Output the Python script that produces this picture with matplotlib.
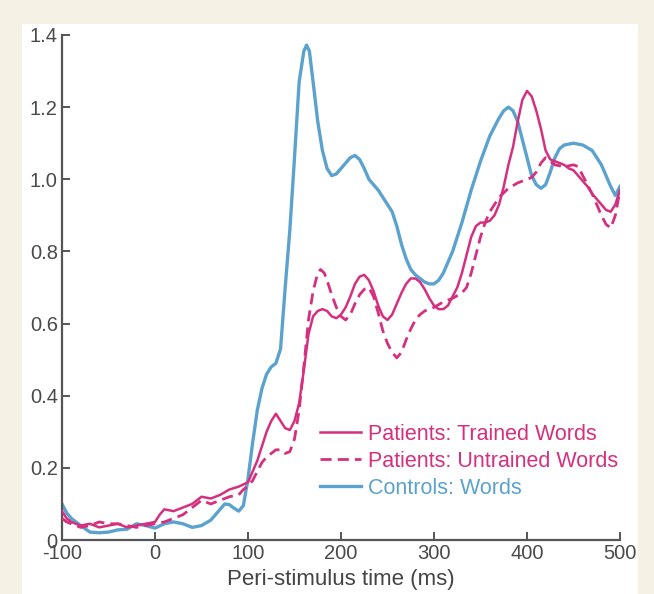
import matplotlib
matplotlib.use("Agg")
import matplotlib.pyplot as plt
from matplotlib.patches import Rectangle

plt.rcParams['font.family'] = ['Liberation Sans', 'DejaVu Sans']
plt.rcParams['axes.unicode_minus'] = False

# Controls: Words (blue)
t_ctrl = [-100, -95, -90, -80, -70, -60, -50, -40, -30, -20, -10, 0, 10, 20, 30, 40, 50, 60, 70, 75,
          80, 85, 90, 95, 100, 105, 110, 115, 120, 125, 130, 135, 140, 145, 150, 155, 160, 163, 166, 170,
          175, 180, 185, 190, 195, 200, 205, 210, 215, 220, 225, 230, 235, 240, 245, 250, 255, 260, 265, 270,
          275, 280, 285, 290, 295, 300, 305, 310, 320, 330, 340, 350, 360, 370, 375, 380, 385, 390, 395, 400,
          405, 410, 415, 420, 425, 430, 435, 440, 450, 460, 470, 475, 480, 485, 490, 495, 500]
v_ctrl = [0.10, 0.075, 0.06, 0.04, 0.022, 0.02, 0.022, 0.028, 0.03, 0.045, 0.04, 0.033, 0.045, 0.05, 0.045, 0.035, 0.04, 0.055, 0.085, 0.10,
          0.098, 0.088, 0.08, 0.095, 0.17, 0.27, 0.36, 0.42, 0.46, 0.48, 0.49, 0.53, 0.70, 0.86, 1.06, 1.27, 1.355, 1.372, 1.355, 1.27,
          1.16, 1.08, 1.03, 1.01, 1.015, 1.03, 1.045, 1.06, 1.066, 1.055, 1.03, 1.0, 0.985, 0.97, 0.95, 0.93, 0.91, 0.87, 0.82, 0.78,
          0.75, 0.735, 0.725, 0.715, 0.71, 0.71, 0.72, 0.74, 0.80, 0.88, 0.97, 1.05, 1.12, 1.17, 1.19, 1.20, 1.19, 1.16, 1.11, 1.06,
          1.01, 0.985, 0.975, 0.985, 1.02, 1.06, 1.085, 1.095, 1.10, 1.095, 1.08, 1.06, 1.04, 1.01, 0.98, 0.955, 0.98]

# Patients: Trained Words (solid magenta)
t_trained = [-100, -95, -90, -80, -70, -60, -50, -40, -30, -20, -10, 0, 5, 10, 20, 30, 40, 50, 60, 70,
             80, 90, 100, 105, 110, 115, 120, 125, 130, 135, 140, 145, 150, 155, 160, 165, 170, 175, 180, 185,
             190, 195, 200, 205, 210, 215, 220, 225, 230, 235, 240, 245, 250, 255, 260, 265, 270, 275, 280, 285,
             290, 295, 300, 305, 310, 315, 320, 325, 330, 335, 340, 345, 350, 355, 360, 365, 370, 375, 380, 385,
             390, 395, 400, 405, 410, 415, 420, 425, 430, 435, 440, 445, 450, 455, 460, 465, 470, 475, 480, 485,
             490, 495, 500]
v_trained = [0.08, 0.06, 0.05, 0.04, 0.045, 0.035, 0.04, 0.045, 0.035, 0.04, 0.045, 0.05, 0.07, 0.085, 0.08, 0.09, 0.10, 0.12, 0.115, 0.125,
             0.14, 0.148, 0.16, 0.19, 0.22, 0.26, 0.30, 0.33, 0.35, 0.33, 0.31, 0.305, 0.33, 0.38, 0.47, 0.57, 0.62, 0.635, 0.64, 0.635,
             0.62, 0.615, 0.625, 0.645, 0.675, 0.71, 0.73, 0.735, 0.72, 0.69, 0.65, 0.62, 0.61, 0.625, 0.655, 0.685, 0.71, 0.725, 0.725, 0.715,
             0.695, 0.67, 0.65, 0.64, 0.64, 0.65, 0.675, 0.70, 0.74, 0.79, 0.84, 0.87, 0.88, 0.88, 0.885, 0.90, 0.93, 0.98, 1.04, 1.09,
             1.16, 1.22, 1.245, 1.23, 1.19, 1.14, 1.08, 1.055, 1.05, 1.045, 1.04, 1.03, 1.025, 1.01, 0.995, 0.98, 0.96, 0.945, 0.93, 0.915,
             0.91, 0.93, 0.97]

# Patients: Untrained Words (dashed magenta)
t_untrained = [-100, -95, -90, -80, -70, -60, -50, -40, -30, -20, -10, 0, 10, 20, 30, 40, 50, 60, 70, 80,
               90, 95, 100, 105, 110, 115, 120, 125, 130, 135, 140, 145, 150, 155, 160, 165, 170, 175, 178, 182,
               185, 190, 195, 200, 205, 210, 215, 220, 225, 230, 235, 240, 245, 250, 255, 260, 265, 270, 275, 280,
               285, 290, 300, 310, 320, 330, 335, 340, 345, 350, 355, 360, 370, 380, 390, 400, 405, 410, 415, 420,
               425, 430, 440, 450, 455, 460, 465, 470, 475, 480, 485, 490, 495, 500]
v_untrained = [0.06, 0.05, 0.045, 0.035, 0.04, 0.05, 0.045, 0.045, 0.04, 0.035, 0.04, 0.045, 0.05, 0.06, 0.07, 0.09, 0.11, 0.10, 0.11, 0.12,
               0.125, 0.14, 0.15, 0.165, 0.19, 0.215, 0.23, 0.24, 0.25, 0.25, 0.24, 0.245, 0.28, 0.36, 0.48, 0.61, 0.69, 0.74, 0.75, 0.74,
               0.72, 0.68, 0.645, 0.62, 0.61, 0.625, 0.655, 0.68, 0.695, 0.70, 0.675, 0.63, 0.58, 0.545, 0.52, 0.505, 0.52, 0.555, 0.585, 0.61,
               0.625, 0.635, 0.645, 0.66, 0.67, 0.685, 0.70, 0.74, 0.79, 0.84, 0.88, 0.91, 0.95, 0.975, 0.99, 1.0, 1.005, 1.02, 1.045, 1.06,
               1.05, 1.04, 1.035, 1.04, 1.035, 1.01, 0.985, 0.96, 0.93, 0.90, 0.875, 0.865, 0.90, 0.97]

x_ticks = [-100, 0, 100, 200, 300, 400, 500]
y_ticks = [0, 0.2, 0.4, 0.6, 0.8, 1.0, 1.2, 1.4]
y_labels = ['0', '0.2', '0.4', '0.6', '0.8', '1.0', '1.2', '1.4']

magenta = '#d5307f'
blue = '#5ba2cf'
grey = '#555555'

fig = plt.figure(figsize=(6.54, 5.94), dpi=100, facecolor='#f5f1e4')
# white panel on the cream page
fig.patches.append(Rectangle((22 / 654, 0), 616 / 654, 570 / 594, transform=fig.transFigure,
                             facecolor='white', edgecolor='none', zorder=-10))

ax = fig.add_axes([62 / 654, 54 / 594, 558 / 654, 505 / 594])
ax.set_facecolor('none')

ax.plot(t_ctrl, v_ctrl, color=blue, lw=2.4, label='Controls: Words', zorder=2)
ax.plot(t_untrained, v_untrained, color=magenta, lw=2.0, dashes=(4.0, 2.2), label='Patients: Untrained Words', zorder=3)
ax.plot(t_trained, v_trained, color=magenta, lw=1.8, label='Patients: Trained Words', zorder=4)

ax.set_xlim(-100, 500)
ax.set_ylim(0, 1.4)
ax.set_xticks(x_ticks)
ax.set_yticks(y_ticks)
ax.set_yticklabels(y_labels)

for s in ['top', 'right']:
    ax.spines[s].set_visible(False)
for s in ['left', 'bottom']:
    ax.spines[s].set_color(grey)
    ax.spines[s].set_linewidth(1.6)
ax.tick_params(direction='in', length=6, width=1.4, color=grey, labelcolor='#4a4a4a', labelsize=14.5)
ax.tick_params(axis='y', pad=3)
ax.tick_params(axis='x', pad=3)

ax.set_xlabel('Peri-stimulus time (ms)', fontsize=16, color='#444444', labelpad=4)

h, l = ax.get_legend_handles_labels()
order = [2, 1, 0]
ax.legend([h[i] for i in order], [l[i] for i in order], loc='upper left', bbox_to_anchor=(0.462, 0.23),
          frameon=False, fontsize=15.5, labelcolor='linecolor', handlelength=1.9, handletextpad=0.35,
          labelspacing=0.28, borderpad=0, borderaxespad=0)

fig.savefig('out.png', dpi=100, facecolor=fig.get_facecolor())
